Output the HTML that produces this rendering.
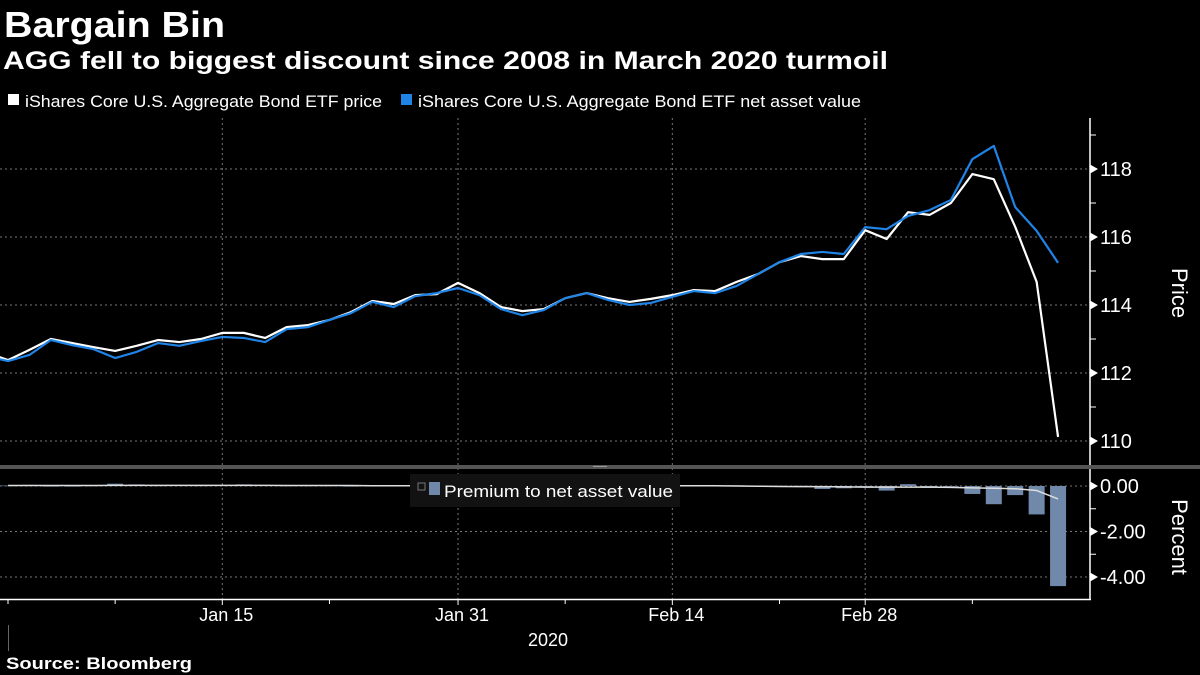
<!DOCTYPE html>
<html><head><meta charset="utf-8"><style>
html,body{margin:0;padding:0;background:#000;}
svg{display:block;font-family:"Liberation Sans",sans-serif;}
</style></head><body>
<svg id="chart" width="1200" height="675" viewBox="0 0 1200 675">
<text x="4" y="37" font-size="36" font-weight="bold" fill="#fff" textLength="221" lengthAdjust="spacingAndGlyphs">Bargain Bin</text>
<text x="3" y="69" font-size="25" font-weight="bold" fill="#fff" textLength="885" lengthAdjust="spacingAndGlyphs">AGG fell to biggest discount since 2008 in March 2020 turmoil</text>
<g>
<rect x="8" y="94" width="11" height="11" fill="#fff"/>
<text x="25" y="107" font-size="17" fill="#fff" textLength="357" lengthAdjust="spacingAndGlyphs">iShares Core U.S. Aggregate Bond ETF price</text>
<rect x="401" y="94" width="11" height="11" fill="#1f84e6"/>
<text x="418" y="107" font-size="17" fill="#fff" textLength="443" lengthAdjust="spacingAndGlyphs">iShares Core U.S. Aggregate Bond ETF net asset value</text>
</g>
<defs><clipPath id="topclip"><rect x="0" y="115" width="1090" height="350"/></clipPath>
<clipPath id="botclip"><rect x="0" y="470" width="1090" height="130"/></clipPath></defs>
<g id="grid"></g>
<g id="bars" clip-path="url(#botclip)"></g>
<g id="lines" clip-path="url(#topclip)"></g>
<g id="axes"></g>
<rect x="0" y="465" width="1200" height="4" fill="#555"/>
<rect x="593" y="466" width="14" height="1" fill="#999"/>
<g>
<rect x="410" y="474" width="270" height="33" fill="#121212"/>
<rect x="418" y="483" width="7" height="7" fill="none" stroke="#777" stroke-width="1"/>
<rect x="429" y="482" width="11" height="13" fill="#7089aa"/>
<text x="444" y="497" font-size="17" fill="#fff" textLength="229" lengthAdjust="spacingAndGlyphs">Premium to net asset value</text>
</g>
<text transform="translate(1172,293) rotate(90)" text-anchor="middle" font-size="22" fill="#fff">Price</text>
<text transform="translate(1172,537) rotate(90)" text-anchor="middle" font-size="22" fill="#fff">Percent</text>
<text x="548" y="646" text-anchor="middle" font-size="18" fill="#fff">2020</text>
<line x1="8.5" y1="625" x2="8.5" y2="651" stroke="#666"/>
<text x="6" y="669" font-size="17" font-weight="bold" fill="#fff" textLength="186" lengthAdjust="spacingAndGlyphs">Source: Bloomberg</text>
</svg>
<script>
const priceValues=[112.6,112.38,112.68,113.0,112.88,112.76,112.65,112.8,112.97,112.91,113.0,113.18,113.18,113.03,113.35,113.41,113.56,113.79,114.12,114.03,114.29,114.32,114.65,114.35,113.94,113.82,113.88,114.2,114.35,114.2,114.09,114.18,114.29,114.44,114.41,114.68,114.91,115.26,115.44,115.35,115.35,116.2,115.94,116.73,116.65,117.0,117.85,117.7,116.3,114.68,110.12];
const navValues=[112.5,112.35,112.53,112.97,112.82,112.7,112.44,112.62,112.88,112.8,112.94,113.06,113.03,112.91,113.29,113.35,113.56,113.76,114.09,113.94,114.26,114.35,114.5,114.29,113.88,113.7,113.85,114.2,114.35,114.15,114.0,114.06,114.24,114.41,114.35,114.56,114.91,115.26,115.5,115.56,115.5,116.29,116.23,116.62,116.79,117.09,118.29,118.68,116.88,116.18,115.24];
const premiumValues=[0.02,0.05,-0.02,0.0,0.02,0.1,0.07,0.02,0.03,0.02,0.03,0.07,0.03,0.02,0.02,0.02,0.0,0.01,0.01,0.02,0.01,-0.01,0.02,0.01,0.01,0.02,0.01,0.0,0.0,0.01,0.02,0.02,0.01,0.01,0.03,0.01,0.01,0.01,-0.13,-0.1,0.0,-0.2,0.08,-0.08,-0.02,-0.35,-0.8,-0.4,-1.25,-4.4];
const premiumAvg=[0.02,0.02,0.02,0.02,0.02,0.03,0.03,0.03,0.03,0.03,0.03,0.03,0.03,0.02,0.02,0.02,0.02,0.01,0.01,0.01,0.01,0.01,0.01,0.01,0.01,0.01,0.01,0.01,0.01,0.01,0.01,0.01,0.01,0.01,0.0,-0.01,-0.02,-0.03,-0.03,-0.04,-0.05,-0.05,-0.05,-0.05,-0.06,-0.08,-0.1,-0.12,-0.2,-0.57];
const priceTicks=[110,112,114,116,118];
const pctTicks=[0,-2,-4];
const dateLabels=["Jan 15","Jan 31","Feb 14","Feb 28"];
const dateLabelIdx=[10,21,31,40];
const minorTickIdx=[0,5,15,26,36,45];
const NS="http://www.w3.org/2000/svg";
function xPos(i){return 8+i*21.43;}
function yPrice(v){return 305-(v-114)*34;}
function yPct(v){return 486-v*22.75;}
function mk(parent,tag,attrs){const e=document.createElementNS(NS,tag);for(const k in attrs)e.setAttribute(k,attrs[k]);document.getElementById(parent).appendChild(e);return e;}
priceTicks.forEach(v=>{const l=mk('grid','line',{x1:0,x2:1090,y1:yPrice(v),y2:yPrice(v),stroke:'#777','stroke-dasharray':'2,3','stroke-width':1});

});
pctTicks.forEach(v=>{const l=mk('grid','line',{x1:0,x2:1090,y1:yPct(v),y2:yPct(v),stroke:'#777','stroke-dasharray':'2,3','stroke-width':1});

});
dateLabelIdx.forEach(i=>{const l=mk('grid','line',{x1:xPos(i),x2:xPos(i),y1:118,y2:600,stroke:'#777','stroke-dasharray':'2,3'});

});
premiumValues.forEach((v,i)=>{const y0=yPct(0),y1=yPct(v);const r=mk('bars','rect',{x:xPos(i)-8,width:16,y:Math.min(y0,y1),height:Math.max(Math.abs(y1-y0),0.6),fill:'#7089aa'});

});
const avg=mk('bars','polyline',{points:premiumAvg.map((v,i)=>(xPos(i))+','+yPct(v)).join(' '),fill:'none',stroke:'#ddd','stroke-width':1.5});


const pl=mk('lines','polyline',{points:priceValues.map((v,i)=>xPos(i-1)+','+yPrice(v)).join(' '),fill:'none',stroke:'#fff','stroke-width':2.2,'stroke-linejoin':'round'});


const nl=mk('lines','polyline',{points:navValues.map((v,i)=>xPos(i-1)+','+yPrice(v)).join(' '),fill:'none',stroke:'#1f84e6','stroke-width':2.2,'stroke-linejoin':'round'});


const ax=mk('axes','line',{x1:1090,x2:1090,y1:118,y2:600,stroke:'#fff','stroke-width':1.5});


const xa=mk('axes','line',{x1:0,x2:1091,y1:599.5,y2:599.5,stroke:'#fff','stroke-width':1.5});


for(let v=109;v<=119;v++){const y=yPrice(v);if(y<120||y>462)continue;const major=v%2===0;
const t=mk('axes','path',{d:major?`M1090 ${y-4} L1097 ${y} L1090 ${y+4}Z`:`M1090 ${y} L1096 ${y}`,fill:'#fff',stroke:'#fff','stroke-width':1});

}
priceTicks.forEach(v=>{const t=mk('axes','text',{x:1100,y:yPrice(v)+7,'font-size':20,fill:'#fff'});t.textContent=v;

});
for(let v=1;v>=-5;v--){const y=yPct(v);if(y<470||y>598)continue;const major=v%2===0;
const t=mk('axes','path',{d:major?`M1090 ${y-4} L1097 ${y} L1090 ${y+4}Z`:`M1090 ${y} L1096 ${y}`,fill:'#fff',stroke:'#fff','stroke-width':1});

}
pctTicks.forEach(v=>{const t=mk('axes','text',{x:1100,y:yPct(v)+7,'font-size':20,fill:'#fff'});t.textContent=v.toFixed(2);

});
dateLabelIdx.forEach((i,k)=>{const x=xPos(i);const t=mk('axes','line',{x1:x,x2:x,y1:600,y2:605,stroke:'#fff'});


const l=mk('axes','text',{x:x+4,y:621,'font-size':18,fill:'#fff','text-anchor':'middle'});l.textContent=dateLabels[k];

});
minorTickIdx.forEach(i=>{const x=xPos(i);const t=mk('axes','line',{x1:x,x2:x,y1:600,y2:604,stroke:'#fff'});

});
</script>
</body></html>
